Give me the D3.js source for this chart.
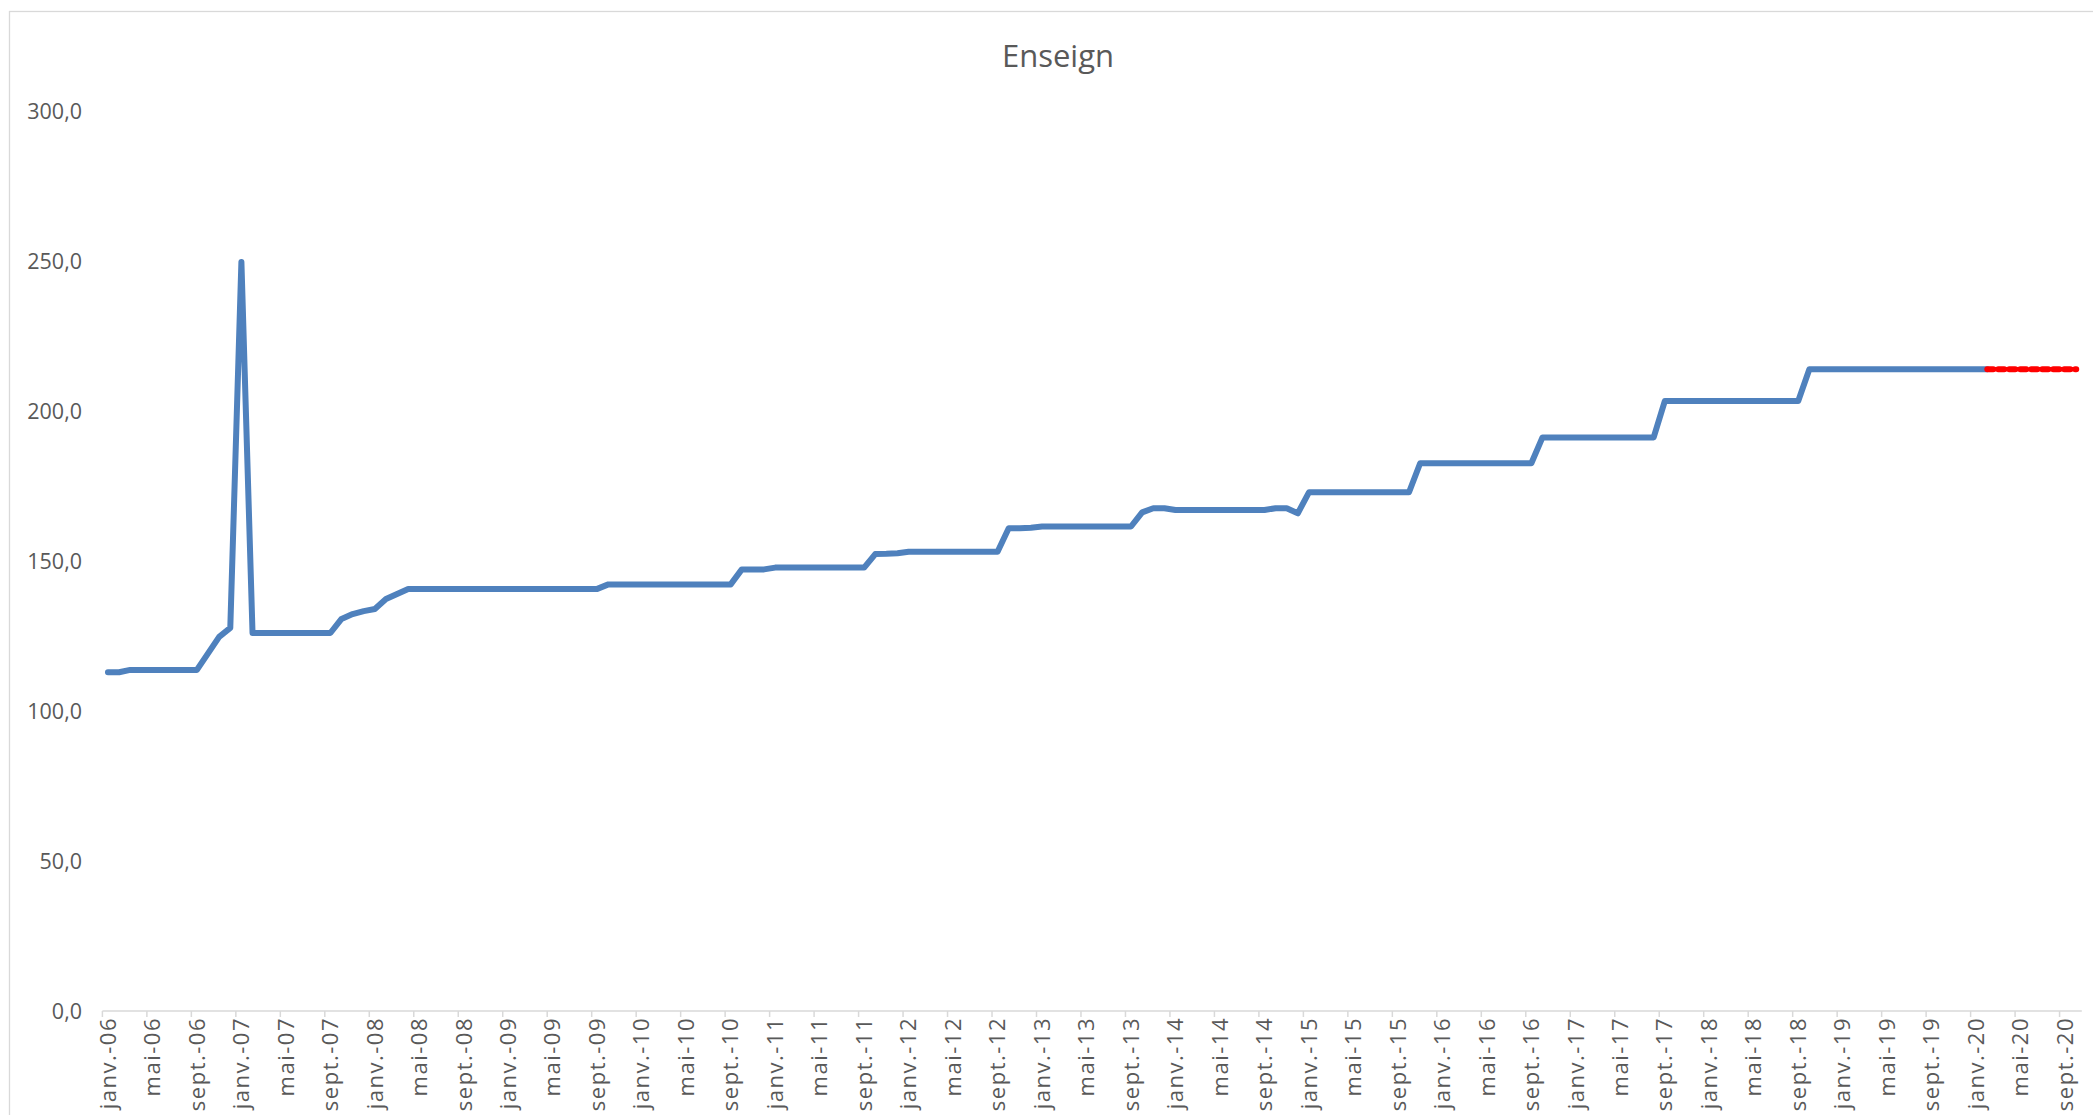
<!DOCTYPE html>
<html>
<head>
<meta charset="utf-8">
<script src="https://cdn.jsdelivr.net/npm/d3@7"></script>
<style>
	body { margin: 0; background: #fff; }
	text { font-family: "Open Sans", "Noto Sans", sans-serif; fill: #595959; }
</style>
</head>
<body>
<div id="chart_area"></div>
<script>

//////////////////////DATA//////////////////////////

var title = "Enseign";
var years = ["06","07","08","09","10","11","12","13","14","15","16","17","18","19","20"];
var monthNames = ["janv.","févr.","mars","avr.","mai","juin","juil.","août","sept.","oct.","nov.","déc."];
var yTicks = [0, 50, 100, 150, 200, 250, 300];

// observed values, janv.-06 -> févr.-20
var observed = [
	112.9, 112.9, 113.7, 113.7, 113.7, 113.7, 113.7, 113.7, 113.7, 119.2, 124.7, 127.7,   // 2006
	249.7, 126.0, 126.0, 126.0, 126.0, 126.0, 126.0, 126.0, 126.0, 130.7, 132.3, 133.3,   // 2007
	134.0, 137.3, 139.0, 140.7, 140.7, 140.7, 140.7, 140.7, 140.7, 140.7, 140.7, 140.7,   // 2008
	140.7, 140.7, 140.7, 140.7, 140.7, 140.7, 140.7, 140.7, 140.7, 142.2, 142.2, 142.2,   // 2009
	142.2, 142.2, 142.2, 142.2, 142.2, 142.2, 142.2, 142.2, 142.2, 147.2, 147.2, 147.2,   // 2010
	147.8, 147.8, 147.8, 147.8, 147.8, 147.8, 147.8, 147.8, 147.8, 152.3, 152.4, 152.6,   // 2011
	153.1, 153.1, 153.1, 153.1, 153.1, 153.1, 153.1, 153.1, 153.1, 160.9, 160.9, 161.1,   // 2012
	161.5, 161.5, 161.5, 161.5, 161.5, 161.5, 161.5, 161.5, 161.5, 166.2, 167.6, 167.6,   // 2013
	167.0, 167.0, 167.0, 167.0, 167.0, 167.0, 167.0, 167.0, 167.0, 167.6, 167.6, 165.9,   // 2014
	172.9, 172.9, 172.9, 172.9, 172.9, 172.9, 172.9, 172.9, 172.9, 172.9, 182.6, 182.6,   // 2015
	182.6, 182.6, 182.6, 182.6, 182.6, 182.6, 182.6, 182.6, 182.6, 191.2, 191.2, 191.2,   // 2016
	191.2, 191.2, 191.2, 191.2, 191.2, 191.2, 191.2, 191.2, 203.3, 203.3, 203.3, 203.3,   // 2017
	203.3, 203.3, 203.3, 203.3, 203.3, 203.3, 203.3, 203.3, 203.3, 213.9, 213.9, 213.9,   // 2018
	213.9, 213.9, 213.9, 213.9, 213.9, 213.9, 213.9, 213.9, 213.9, 213.9, 213.9, 213.9,   // 2019
	213.9, 213.9                                                                          // 2020
];
// forecast values, févr.-20 -> oct.-20 (red dotted)
var forecast = [213.9, 213.9, 213.9, 213.9, 213.9, 213.9, 213.9, 213.9, 213.9];

// build the month categories (janv.-06 ... oct.-20)
var categories = [];
for (var y=0; y<years.length; y++){
	for (var m=0; m<monthNames.length; m++){
		categories.push(monthNames[m] + "-" + years[y]);
	}
}
var nbMonths = observed.length + forecast.length - 1;
categories = categories.slice(0, nbMonths);

var observedData = observed.map(function(v, i){ return {cat: categories[i], value: v}; });
var forecastData = forecast.map(function(v, i){ return {cat: categories[observed.length - 1 + i], value: v}; });

// labels shown every 4 months (janv., mai, sept.)
var xLabels = categories.filter(function(c, i){ return i % 4 == 0; });


//////////////////////CREATE AXES//////////////////////////

var frame_width = 2093;
var frame_height = 1115;
var plot = {left: 102.4, right: 2081.8, top: 111, bottom: 1011};

var frame = d3.select("#chart_area").append("svg")
				.attr("width", frame_width)
				.attr("height", frame_height);

// chart area border
frame.append("rect")
	.attr("x", 9.5)
	.attr("y", 11.5)
	.attr("width", 2200)
	.attr("height", 1300)
	.attr("fill", "none")
	.attr("stroke", "#d9d9d9")
	.attr("stroke-width", 1.3);

frame.append("text")
	.attr("x", 1058)
	.attr("y", 56)
	.attr("text-anchor", "middle")
	.attr("dy", "0.35em")
	.style("font-size", "31px")
	.text(title);

var xScale = d3.scaleBand()
				.domain(categories)
				.range([plot.left, plot.right]);
var yScale = d3.scaleLinear()
				.domain([0, 300])
				.range([plot.bottom, plot.top]);

var fmt = function(v){ return d3.format(".1f")(v).replace(".", ","); };

// y labels only (no axis line, no gridlines)
frame.append("g")
	.attr("class", "y axis")
	.selectAll("text")
	.data(yTicks)
	.enter()
	.append("text")
	.attr("x", 82)
	.attr("y", function(d){ return yScale(d); })
	.attr("dy", "0.35em")
	.attr("text-anchor", "end")
	.style("font-size", "21.5px")
	.text(fmt);

// x axis line + tick marks at category boundaries
var xAxis = frame.append("g").attr("class", "x axis");
xAxis.append("line")
	.attr("x1", plot.left)
	.attr("x2", plot.right)
	.attr("y1", plot.bottom)
	.attr("y2", plot.bottom)
	.attr("stroke", "#d9d9d9")
	.attr("stroke-width", 1.5);
xAxis.selectAll(".tick")
	.data(xLabels)
	.enter()
	.append("line")
	.attr("class", "tick")
	.attr("x1", function(d){ return xScale(d); })
	.attr("x2", function(d){ return xScale(d); })
	.attr("y1", plot.bottom)
	.attr("y2", plot.bottom + 6)
	.attr("stroke", "#d9d9d9")
	.attr("stroke-width", 1.5);
xAxis.selectAll(".label")
	.data(xLabels)
	.enter()
	.append("text")
	.attr("class", "label")
	.attr("text-anchor", "end")
	.attr("transform", function(d){
		return "translate(" + (xScale(d) + xScale.bandwidth()/2) + "," + (plot.bottom + 6) + ") rotate(-90)";
	})
	.attr("dy", "0.35em")
	.style("font-size", "22px")
	.style("letter-spacing", "1.5px")
	.text(function(d){ return d; });


//////////////////////FILL IN DATA//////////////////////////

var line = d3.line()
			.x(function(d){ return xScale(d.cat) + xScale.bandwidth()/2; })
			.y(function(d){ return yScale(d.value); });

frame.append("path")
	.datum(observedData)
	.attr("d", line)
	.attr("fill", "none")
	.attr("stroke", "#4f81bd")
	.attr("stroke-width", 6)
	.attr("stroke-linejoin", "round")
	.attr("stroke-linecap", "round");

frame.append("path")
	.datum(forecastData)
	.attr("d", line)
	.attr("fill", "none")
	.attr("stroke", "#ff0000")
	.attr("stroke-width", 6)
	.attr("stroke-dasharray", "6,5")
	.attr("stroke-linecap", "round");

</script>
</body>
</html>
